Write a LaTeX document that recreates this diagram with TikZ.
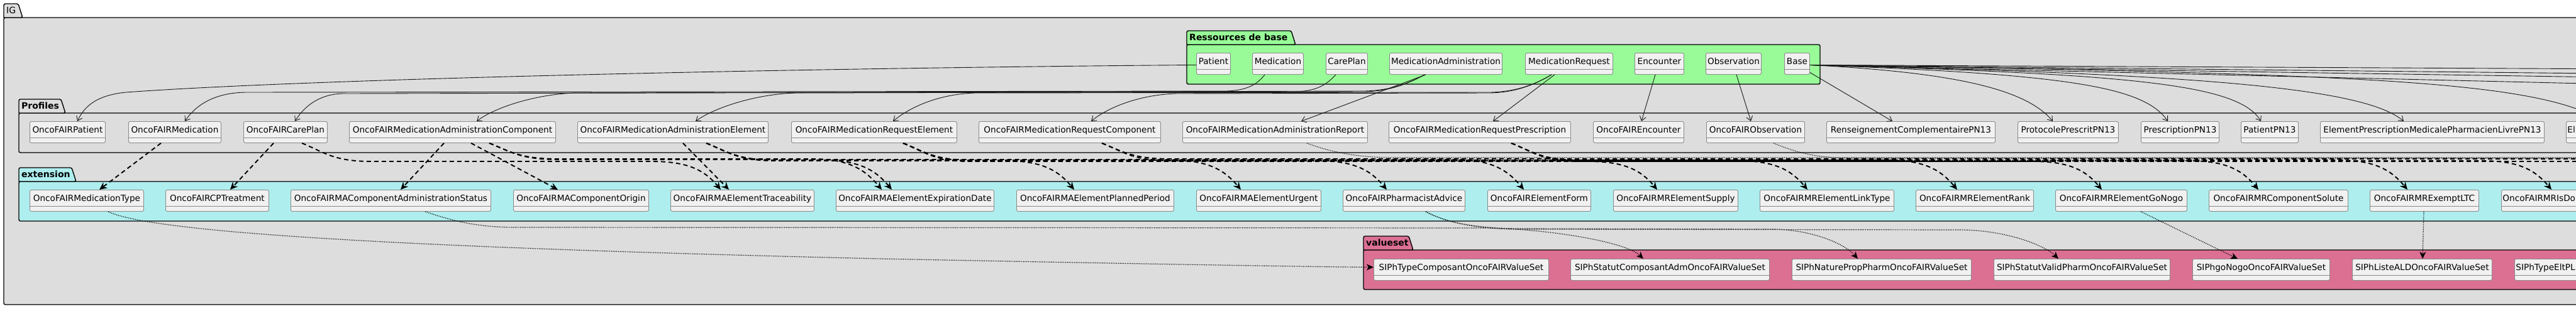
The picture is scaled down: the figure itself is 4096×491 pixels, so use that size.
\documentclass[tikz,border=0pt]{standalone}
\usepackage{fontspec}
\setmainfont{DejaVu Sans}
\usetikzlibrary{arrows.meta}
\definecolor{igfill}{HTML}{DDDDDD}
\definecolor{resfill}{HTML}{98FB98}
\definecolor{extfill}{HTML}{AFEEEE}
\definecolor{vsfill}{HTML}{DB7093}
\definecolor{clsfill}{HTML}{F1F1F1}
\definecolor{clsborder}{HTML}{8A8A8A}
\definecolor{edgecol}{HTML}{181818}
\tikzset{
  cls/.style={draw=clsborder, fill=clsfill, rounded corners=2.5pt, line width=0.9pt,
    anchor=north west, minimum height=34pt, inner ysep=0pt, inner xsep=2pt,
    text height=18.5pt, text depth=15.5pt, font=\fontsize{13.6}{16}\selectfont,
    path picture={\draw[clsborder, line width=0.9pt]
      ([yshift=-26pt]path picture bounding box.north west) --
      ([yshift=-26pt]path picture bounding box.north east);}},
  pkgline/.style={draw=black, line width=1.4pt},
  pkglabel/.style={anchor=base west, inner sep=0pt, font=\fontsize{14}{16}\selectfont},
  sedge/.style={draw=edgecol, line width=0.9pt, -{Straight Barb[length=7pt,width=10pt]}},
  dedge/.style={draw=black, line width=1.9pt, dash pattern=on 7pt off 5pt,
    -{Stealth[length=12pt,width=11pt,inset=4pt]}},
  tedge/.style={draw=black, line width=1.1pt, dash pattern=on 1.2pt off 1.6pt},
  vedge/.style={draw=black, line width=1.2pt, dash pattern=on 1.2pt off 1.6pt,
    -{Stealth[length=11pt,width=10pt,inset=3pt]}},
}
\newcommand\pkg[9]{%
  \draw[pkgline, fill=#8, rounded corners=2.5pt] (#2,#5) rectangle (#6,#7);
  \draw[pkgline, fill=#8] (#2,#5) [rounded corners=2.5pt] -- (#2,#3) -- (#4-7,#3) -- (#4,#5) [sharp corners] -- cycle;
  \node[pkglabel] (#1) at (#2+4,#5-6.5) {#9};}
\newcommand\bund[8][dedge]{%
  \pgfmathsetmacro\bax{#4+110}\pgfmathsetmacro\bbx{#7-110}%
  \draw[#1] ([xshift=#3]#2.south west) .. controls (#4+35,242) and (\bax-60,#8) .. (\bax,#8)
    -- (\bbx,#8) .. controls (\bbx+60,#8) and (#7-25,272) .. ([xshift=#6]#5.north west);}
\begin{document}
\begin{tikzpicture}[x=1pt,y=-1pt]
\useasboundingbox (0,0) rectangle (4096,491);
\clip (0,0) rectangle (4096,491);
\fill[white] (0,0) rectangle (4096,491);

% packages
\pkg{lblIG}{6}{6}{36}{28}{4200}{485}{igfill}{IG}
\pkg{lblRes}{1887}{49}{2060}{71}{2894}{134}{resfill}{\bfseries Ressources de base}
\pkg{lblProf}{30}{158}{104}{180}{4200}{243}{igfill}{\bfseries Profiles}
\pkg{lblExt}{30}{267}{121}{289}{4200}{352}{extfill}{\bfseries extension}
\pkg{lblVS}{2168}{376}{2247}{398}{4200}{461}{vsfill}{\bfseries valueset}

% base resources
\node[cls, minimum width=54] (rPatient) at (1902,84) {Patient};
\node[cls, minimum width=81] (rMedication) at (1991,84) {Medication};
\node[cls, minimum width=66] (rCarePlan) at (2108,84) {CarePlan};
\node[cls, minimum width=179] (rMA) at (2209,84) {MedicationAdministration};
\node[cls, minimum width=139] (rMR) at (2425,84) {MedicationRequest};
\node[cls, minimum width=78] (rEncounter) at (2599,84) {Encounter};
\node[cls, minimum width=88] (rObservation) at (2712,84) {Observation};
\node[cls, minimum width=40] (rBase) at (2837,84) {Base};

% profiles
\node[cls, minimum width=120] (pPatient) at (47,193) {OncoFAIRPatient};
\node[cls, minimum width=147] (pMedication) at (204,193) {OncoFAIRMedication};
\node[cls, minimum width=133] (pCarePlan) at (387,193) {OncoFAIRCarePlan};
\node[cls, minimum width=328] (pMAComp) at (555,193) {OncoFAIRMedicationAdministrationComponent};
\node[cls, minimum width=303] (pMAElem) at (918,193) {OncoFAIRMedicationAdministrationElement};
\node[cls, minimum width=263] (pMRElem) at (1258,193) {OncoFAIRMedicationRequestElement};
\node[cls, minimum width=289] (pMRComp) at (1556,193) {OncoFAIRMedicationRequestComponent};
\node[cls, minimum width=294] (pMAReport) at (1880,193) {OncoFAIRMedicationAdministrationReport};
\node[cls, minimum width=289] (pMRPresc) at (2208,193) {OncoFAIRMedicationRequestPrescription};
\node[cls, minimum width=144] (pEncounter) at (2533,193) {OncoFAIREncounter};
\node[cls, minimum width=156] (pObservation) at (2713,193) {OncoFAIRObservation};
\node[cls, minimum width=268] (pRenseign) at (2904,193) {RenseignementComplementairePN13};
\node[cls, minimum width=160] (pProtocole) at (3208,193) {ProtocolePrescritPN13};
\node[cls, minimum width=124] (pPrescription) at (3404,193) {PrescriptionPN13};
\node[cls, minimum width=91] (pPatientPN13) at (3563,193) {PatientPN13};
\node[cls, minimum width=356] (pElemPresc) at (3689,193) {ElementPrescriptionMedicalePharmacienLivrePN13};
\node[cls] (pEl) at (4080,193) {\makebox[300pt][l]{El}};

% extensions
\node[cls, minimum width=181] (eMedType) at (47,302) {OncoFAIRMedicationType};
\node[cls, minimum width=164] (eCPTreat) at (263,302) {OncoFAIRCPTreatment};
\node[cls, minimum width=318] (eMACompAdmStatus) at (462,302) {OncoFAIRMAComponentAdministrationStatus};
\node[cls, minimum width=215] (eMACompOrigin) at (816,302) {OncoFAIRMAComponentOrigin};
\node[cls, minimum width=228] (eMAElemTrace) at (1066,302) {OncoFAIRMAElementTraceability};
\node[cls, minimum width=251] (eMAElemExp) at (1329,302) {OncoFAIRMAElementExpirationDate};
\node[cls, minimum width=250] (eMAElemPlanned) at (1616,302) {OncoFAIRMAElementPlannedPeriod};
\node[cls, minimum width=198] (eMAElemUrgent) at (1902,302) {OncoFAIRMAElementUrgent};
\node[cls, minimum width=194] (ePharmAdvice) at (2135,302) {OncoFAIRPharmacistAdvice};
\node[cls, minimum width=164] (eElemForm) at (2365,302) {OncoFAIRElementForm};
\node[cls, minimum width=198] (eMRSupply) at (2565,302) {OncoFAIRMRElementSupply};
\node[cls, minimum width=213] (eMRLinkType) at (2798,302) {OncoFAIRMRElementLinkType};
\node[cls, minimum width=187] (eMRRank) at (3046,302) {OncoFAIRMRElementRank};
\node[cls, minimum width=209] (eMRGoNogo) at (3268,302) {OncoFAIRMRElementGoNogo};
\node[cls, minimum width=221] (eMRCompSolute) at (3512,302) {OncoFAIRMRComponentSolute};
\node[cls, minimum width=173] (eMRExemptLTC) at (3768,302) {OncoFAIRMRExemptLTC};
\node[cls] (eMRIsDo) at (3977,302) {\makebox[300pt][l]{OncoFAIRMRIsDo}};

% valuesets
\node[cls, minimum width=278] (vTypeComposant) at (2184,412) {SIPhTypeComposantOncoFAIRValueSet};
\node[cls, minimum width=316] (vStatutCompAdm) at (2497,412) {SIPhStatutComposantAdmOncoFAIRValueSet};
\node[cls, minimum width=285] (vNatureProp) at (2849,412) {SIPhNaturePropPharmOncoFAIRValueSet};
\node[cls, minimum width=280] (vStatutValid) at (3170,412) {SIPhStatutValidPharmOncoFAIRValueSet};
\node[cls, minimum width=218] (vGoNogo) at (3486,412) {SIPhgoNogoOncoFAIRValueSet};
\node[cls, minimum width=222] (vListeALD) at (3740,412) {SIPhListeALDOncoFAIRValueSet};
\node[cls] (vTypeEltPL) at (3998,412) {\makebox[300pt][l]{SIPhTypeEltPL}};

% off-picture ends
\coordinate (offP0) at (4150,200);
\coordinate (offP1) at (4400,111);
\coordinate (offP2) at (4400,120);
\coordinate (offP3) at (4400,127);
\coordinate (offP4) at (4400,140);
\coordinate (offD1) at (4300,253);
\coordinate (offD2) at (4300,257);
\coordinate (offT1) at (4300,251);
\coordinate (offT2) at (4300,252);

% base resources -> profiles
\draw[sedge] ([yshift=-2pt]rPatient.west) .. controls (1300,108) and (500,125) .. (200,147)
  .. controls (150,152) and (133,172) .. ([xshift=76]pPatient.north west);
\draw[sedge] ([xshift=20]rMedication.south west) .. controls (2000,133) and (1985,144) .. (1950,145)
  -- (390,147) .. controls (335,148) and (308,172) .. ([xshift=90]pMedication.north west);
\draw[sedge] ([xshift=16]rCarePlan.south west) .. controls (2110,134) and (2095,145) .. (2060,146)
  -- (545,149) .. controls (505,150) and (482,172) .. ([xshift=82]pCarePlan.north west);
\draw[sedge] ([xshift=56]rMA.south west) .. controls (2240,133) and (2210,144) .. (2170,145)
  -- (915,148) .. controls (850,150) and (785,172) .. ([xshift=203]pMAComp.north west);
\draw[sedge] ([xshift=56]rMA.south west) .. controls (2240,133) and (2210,145) .. (2170,146)
  -- (1265,148) .. controls (1200,150) and (1135,172) .. ([xshift=188]pMAElem.north west);
\draw[sedge] ([xshift=42]rMR.south west) .. controls (2440,135) and (2410,146) .. (2370,147)
  -- (1550,148) .. controls (1490,150) and (1445,172) .. ([xshift=162]pMRElem.north west);
\draw[sedge] ([xshift=42]rMR.south west) .. controls (2440,135) and (2410,147) .. (2370,148)
  -- (1870,149) .. controls (1810,151) and (1760,172) .. ([xshift=179]pMRComp.north west);
\draw[sedge] ([xshift=58]rMA.south west) -- ([xshift=189]pMAReport.north west);
\draw[sedge] ([xshift=47]rMR.south west) -- ([xshift=166]pMRPresc.north west);
\draw[sedge] ([xshift=33]rEncounter.south west) -- ([xshift=77]pEncounter.north west);
\draw[sedge] ([xshift=49]rObservation.south west) -- ([xshift=71]pObservation.north west);
\draw[sedge] ([yshift=-14pt]rBase.east) -- ([xshift=105]pRenseign.north west);
\draw[sedge] ([yshift=-2pt]rBase.east) .. controls (3100,115) and (3220,140) .. ([xshift=56]pProtocole.north west);
\draw[sedge] ([yshift=-2pt]rBase.east) .. controls (3300,118) and (3410,140) .. ([xshift=43]pPrescription.north west);
\draw[sedge] ([yshift=-2pt]rBase.east) .. controls (3400,118) and (3560,135) .. ([xshift=32]pPatientPN13.north west);
\draw[sedge] ([yshift=-2pt]rBase.east) .. controls (3500,118) and (3760,140) .. ([xshift=133]pElemPresc.north west);
\draw[sedge] ([yshift=-2pt]rBase.east) .. controls (3800,118) and (4050,130) .. (offP0);
\draw[sedge] ([yshift=-2pt]rBase.east) -- (offP1);
\draw[sedge] ([yshift=-2pt]rBase.east) -- (offP2);
\draw[sedge] ([yshift=-2pt]rBase.east) -- (offP3);
\draw[sedge] ([yshift=-2pt]rBase.east) -- (offP4);

% profiles -> extensions
\draw[dedge] ([xshift=52]pMedication.south west) -- ([xshift=111]eMedType.north west);
\draw[dedge] ([xshift=48]pCarePlan.south west) -- ([xshift=103]eCPTreat.north west);
\draw[dedge] ([xshift=151]pMAComp.south west) -- ([xshift=175]eMACompAdmStatus.north west);
\draw[dedge] ([xshift=194]pMAComp.south west) -- ([xshift=71]eMACompOrigin.north west);
\draw[dedge] ([xshift=168]pMAElem.south west) -- ([xshift=93]eMAElemTrace.north west);
\bund{pCarePlan}{93}{480}{eMAElemTrace}{80}{1146}{257}
\bund{pMAComp}{223}{778}{eMAElemExp}{73}{1402}{253}
\bund{pMAElem}{205}{1123}{eMAElemExp}{89}{1418}{255}
\bund{pMAElem}{205}{1123}{eMAElemPlanned}{92}{1708}{256}
\bund{pMAElem}{205}{1123}{eMAElemUrgent}{71}{1973}{255}
\bund{pMRElem}{178}{1436}{ePharmAdvice}{70}{2205}{256}
\bund{pMAComp}{223}{778}{eElemForm}{58}{2423}{254}
\bund{pMRElem}{178}{1436}{eMRSupply}{70}{2635}{257}
\bund{pMRElem}{178}{1436}{eMRLinkType}{76}{2874}{256}
\bund{pMRElem}{178}{1436}{eMRRank}{66}{3112}{255}
\bund{pMRElem}{178}{1436}{eMRGoNogo}{74}{3342}{257}
\bund{pMRComp}{196}{1752}{eMRCompSolute}{79}{3591}{256}
\bund{pMRPresc}{195}{2403}{eMRExemptLTC}{60}{3828}{255}
\bund{pMRPresc}{195}{2403}{eMRIsDo}{80}{4057}{256}
\draw[dedge] ([xshift=196]pMRComp.south west) .. controls (1787,242) and (1802,253) .. (1862,253) -- (offD1);
\draw[dedge] ([xshift=195]pMRPresc.south west) .. controls (2438,242) and (2453,257) .. (2513,257) -- (offD2);
\draw[tedge] ([xshift=198]pMAReport.south west) .. controls (2110,240) and (2150,250) .. (2210,251) -- (offT1);
\draw[tedge] ([xshift=107]pObservation.south west) .. controls (2850,240) and (2880,251) .. (2940,252) -- (offT2);

% extensions -> valuesets
\draw[vedge] ([xshift=125]eMedType.south west) .. controls (260,380) and (900,400) .. (1400,412)
  .. controls (1800,420) and (2100,425) .. ([yshift=4pt]vTypeComposant.west);
\draw[vedge] ([xshift=214]eMACompAdmStatus.south west) .. controls (720,352) and (760,362) .. (820,362)
  -- (2360,363) .. controls (2460,364) and (2585,385) .. ([xshift=116]vStatutCompAdm.north west);
\draw[vedge] ([xshift=132]ePharmAdvice.south west) .. controls (2300,355) and (2350,364) .. (2420,364)
  -- (2820,365) .. controls (2885,366) and (2935,390) .. ([xshift=105]vNatureProp.north west);
\draw[vedge] ([xshift=132]ePharmAdvice.south west) .. controls (2300,355) and (2350,365) .. (2420,365)
  -- (3120,366) .. controls (3190,367) and (3250,390) .. ([xshift=103]vStatutValid.north west);
\draw[vedge] ([xshift=136]eMRGoNogo.south west) -- ([xshift=72]vGoNogo.north west);
\draw[vedge] ([xshift=86]eMRExemptLTC.south west) -- ([xshift=112]vListeALD.north west);
\end{tikzpicture}
\end{document}
